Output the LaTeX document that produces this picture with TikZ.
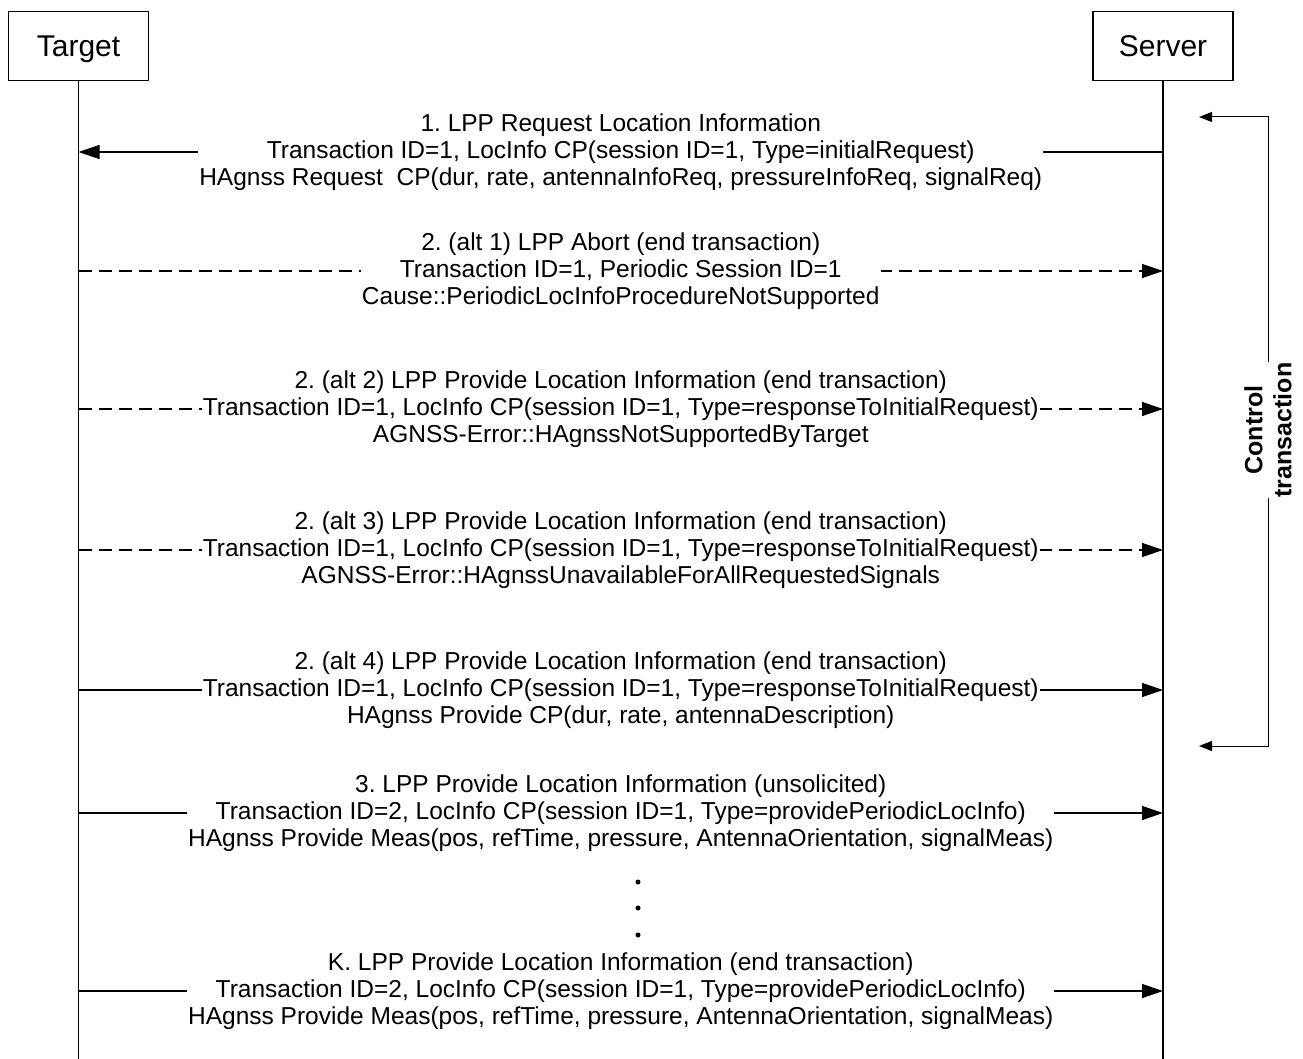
\documentclass[tikz,border=0pt]{standalone}
\usepackage{fontspec}
\setmainfont{Liberation Sans}
\usetikzlibrary{arrows.meta}
\frenchspacing
\begin{document}
\begin{tikzpicture}[x=1pt,y=-1pt,
  box/.style={draw, line width=1.3pt, minimum width=140pt, minimum height=69pt, inner sep=0pt, text depth=0pt, font=\fontsize{30}{34}\selectfont},
  life/.style={line width=1.3pt},
  msg/.style={line width=1.3pt, -{Triangle[length=21pt,width=14pt]}},
  dmsg/.style={msg, dash pattern=on 13pt off 7pt},
  lbl/.style={fill=white, inner sep=1pt, align=center, font=\fontsize{24.5}{27}\selectfont},
  brk/.style={line width=1pt, {Triangle[length=13pt,width=10pt]}-{Triangle[length=13pt,width=10pt]}},
  ctl/.style={fill=white, inner sep=1pt, align=center, font=\bfseries\fontsize{25}{29}\selectfont},
  dotnode/.style={circle, fill, inner sep=0pt, minimum size=5pt}
]
\useasboundingbox (0,0) rectangle (1303,1059);

% participants
\node[box] (tgt) at (78.5,46) {Target};
\node[box] (srv) at (1163,46) {Server};
\coordinate (tend) at (tgt.south |- 0,1059);
\coordinate (send) at (srv.south |- 0,1059);
\draw[life] (tgt.south) -- (tend);
\draw[life] (srv.south) -- (send);

% message anchor points on the lifelines
\foreach \n/\y in {1/152, 2/271, 3/409, 4/550, 5/690, 6/813, 7/991} {
  \coordinate (t\n) at (tgt.south |- 0,\y);
  \coordinate (s\n) at (srv.south |- 0,\y);
}

% 1
\draw[msg] (s1) -- (t1) node[lbl, midway] (m1) {1. LPP Request Location Information\\Transaction ID=1, LocInfo CP(session ID=1, Type=initialRequest)\\HAgnss Request\ \ CP(dur, rate, antennaInfoReq, pressureInfoReq, signalReq)};
% 2 alt 1
\draw[dmsg] (t2) -- (s2) node[lbl, midway] (m2) {2. (alt 1) LPP Abort (end transaction)\\Transaction ID=1, Periodic Session ID=1\\Cause::PeriodicLocInfoProcedureNotSupported};
% 2 alt 2
\draw[dmsg] (t3) -- (s3) node[lbl, midway] (m3) {2. (alt 2) LPP Provide Location Information (end transaction)\\Transaction ID=1, LocInfo CP(session ID=1, Type=responseToInitialRequest)\\AGNSS-Error::HAgnssNotSupportedByTarget};
% 2 alt 3
\draw[dmsg] (t4) -- (s4) node[lbl, midway] (m4) {2. (alt 3) LPP Provide Location Information (end transaction)\\Transaction ID=1, LocInfo CP(session ID=1, Type=responseToInitialRequest)\\AGNSS-Error::HAgnssUnavailableForAllRequestedSignals};
% 2 alt 4
\draw[msg] (t5) -- (s5) node[lbl, midway] (m5) {2. (alt 4) LPP Provide Location Information (end transaction)\\Transaction ID=1, LocInfo CP(session ID=1, Type=responseToInitialRequest)\\HAgnss Provide CP(dur, rate, antennaDescription)};
% 3
\draw[msg] (t6) -- (s6) node[lbl, midway] (m6) {3. LPP Provide Location Information (unsolicited)\\Transaction ID=2, LocInfo CP(session ID=1, Type=providePeriodicLocInfo)\\HAgnss Provide Meas(pos, refTime, pressure, AntennaOrientation, signalMeas)};
% K
\draw[msg] (t7) -- (s7) node[lbl, midway] (m7) {K. LPP Provide Location Information (end transaction)\\Transaction ID=2, LocInfo CP(session ID=1, Type=providePeriodicLocInfo)\\HAgnss Provide Meas(pos, refTime, pressure, AntennaOrientation, signalMeas)};

% dots
\node[dotnode] (d1) at (638,882) {};
\node[dotnode] (d2) at (638,908) {};
\node[dotnode] (d3) at (638,935) {};

% control transaction bracket
\coordinate (b1) at (1199,117);
\coordinate (b2) at (1268,117);
\coordinate (b3) at (1268,746);
\coordinate (b4) at (1199,746);
\draw[brk] (b1) -- (b2) -- (b3) -- (b4);
\node[ctl, rotate=90] (ct) at (1268,430) {Control\\transaction};
\end{tikzpicture}
\end{document}
